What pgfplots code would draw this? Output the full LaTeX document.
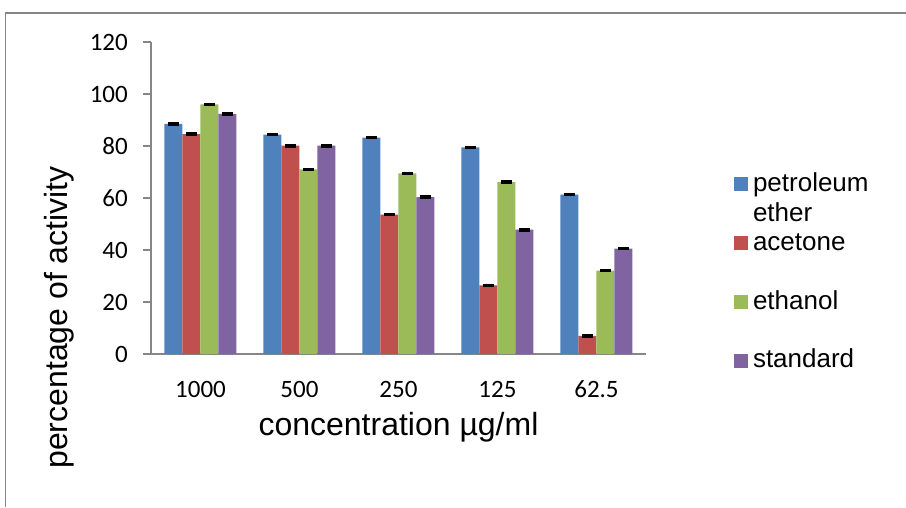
\documentclass[border=0pt]{standalone}
\usepackage{pgfplots}
\pgfplotsset{compat=1.18}
\usepackage{fontspec}
\setmainfont{Liberation Sans}
\newfontfamily\calfont{Carlito}
\definecolor{cA}{HTML}{4F81BD}
\definecolor{cB}{HTML}{C0504D}
\definecolor{cC}{HTML}{9BBB59}
\definecolor{cD}{HTML}{8064A2}
\definecolor{axgray}{HTML}{868686}
\begin{document}
\begin{tikzpicture}[x=1pt,y=1pt]
\useasboundingbox (0,0) rectangle (906,507);
\draw[color=axgray, line width=1.2pt] (5.5,0) -- (5.5,494) -- (906,494);
\begin{axis}[
  at={(151pt,153pt)}, anchor=south west,
  scale only axis, width=495pt, height=312pt,
  xmin=-0.5, xmax=4.5, ymin=0, ymax=120,
  ybar=0pt, bar width=18pt,
  axis x line*=bottom, axis y line*=left,
  axis line style={axgray, line width=1.5pt},
  xtick={0,1,2,3,4}, xticklabels={1000,500,250,125,62.5},
  ytick={0,20,40,60,80,100,120},
  tick align=outside, major tick length=8pt,
  x tick style={draw=none}, y tick style={axgray, line width=1.5pt},
  tick label style={font=\calfont\fontsize{25}{30}\selectfont},
  /pgf/number format/assume math mode=true,
  yticklabel style={anchor=east, inner sep=0pt, xshift=-15pt},
  xticklabel style={anchor=base, inner sep=0pt, yshift=-35pt},
  xlabel={concentration µg/ml},
  ylabel={percentage of activity},
  label style={font=\fontsize{32}{38}\selectfont},
  xlabel style={at={(axis description cs:0.5,-0.2628)}, anchor=base},
  ylabel style={at={(axis description cs:-0.1677,0.117)}, anchor=base},
  legend image code/.code={\fill[#1] (0pt,0pt) rectangle (14pt,14pt);},
  legend cell align=left,
  legend style={at={(axis description cs:1.1778,0.585)}, anchor=north west,
    draw=none, fill=none, inner sep=0pt, outer sep=0pt, row sep=0pt, column sep=5pt,
    font=\fontsize{26}{30}\selectfont,
    nodes={inner sep=0pt, outer sep=0pt, text height=20pt, text depth=38.8pt, anchor=base west}},
  error bars/y dir=both, error bars/y explicit,
  error bars/error bar style={black, line width=0.8pt},
  error bars/error mark options={rotate=90, mark size=5.5pt, line width=2pt, black},
]
\addplot[fill=cA, draw=none] coordinates {(0,88.5) +- (0,0.3) (1,84.4) +- (0,0.3) (2,83.2) +- (0,0.3) (3,79.5) +- (0,0.3) (4,61.3) +- (0,0.3)};
\addplot[fill=cB, draw=none] coordinates {(0,84.6) +- (0,0.3) (1,80.1) +- (0,0.3) (2,53.6) +- (0,0.3) (3,26.4) +- (0,0.3) (4,7.0) +- (0,0.3)};
\addplot[fill=cC, draw=none] coordinates {(0,96.0) +- (0,0.3) (1,71.0) +- (0,0.3) (2,69.5) +- (0,0.3) (3,66.1) +- (0,0.3) (4,32.1) +- (0,0.3)};
\addplot[fill=cD, draw=none] coordinates {(0,92.4) +- (0,0.3) (1,80.1) +- (0,0.3) (2,60.3) +- (0,0.3) (3,47.8) +- (0,0.3) (4,40.5) +- (0,0.3)};
\legend{{\parbox[t]{150pt}{petroleum\\ether}}, acetone, ethanol, standard}
\end{axis}
\end{tikzpicture}
\end{document}
